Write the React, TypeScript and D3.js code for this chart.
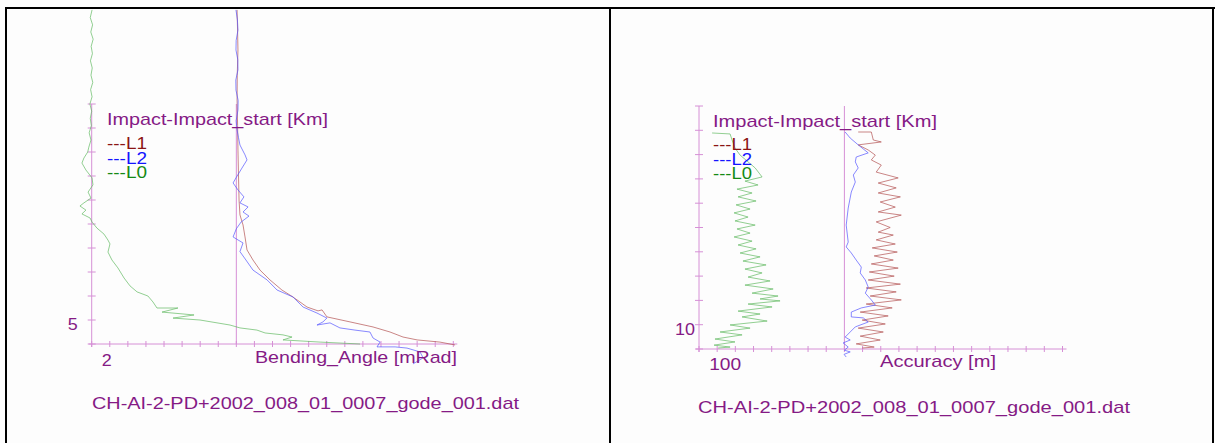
import React from 'react';
import * as d3 from 'd3';

type Pt = [number, number]; // [impact km, value]

const FILE_NAME = 'CH-AI-2-PD+2002_008_01_0007_gode_001.dat';
const Y_TITLE = 'Impact-Impact_start [Km]';
const SERIES_NAMES = ['L1', 'L2', 'L0'];
const LEGEND_COLORS = ['#8b1414', '#1414ff', '#148a14'];
const LINE_COLORS = ['#b04a4a', '#4f4fff', '#5cb85c'];

// ---- Left panel: Bending angle [mRad] ----
const bendXTicks = d3.range(1, 22, 1);
const bendYTicks = d3.range(4, 15, 1);
const bendXLabels = [2];
const bendYLabels = [5];
const bendRefX = 9;

const bendL1: Pt[] = [
  [17.92, 9.04], [17.0, 9.07], [16.25, 9.09], [15.2, 9.05], [14.17, 9.04], [13.1, 9.07], [12.08, 9.09],
  [11.0, 9.12], [10.0, 9.15], [9.38, 9.2], [8.96, 9.37], [8.46, 9.48], [7.92, 9.59], [7.5, 9.92],
  [7.08, 10.31], [6.67, 10.86], [6.25, 11.52], [5.96, 12.13], [5.54, 12.91], [5.38, 13.52],
  [5.42, 13.74], [5.13, 14.01], [4.92, 15.29], [4.71, 16.56], [4.5, 17.5], [4.29, 18.22],
  [4.17, 19.0], [4.08, 20.26], [3.96, 21.1],
];

const bendL2: Pt[] = [
  [17.92, 8.98], [17.5, 9.06], [17.08, 9.09], [16.65, 8.99], [16.25, 8.98], [15.85, 9.08], [15.42, 9.09],
  [15.0, 8.97], [14.58, 8.98], [14.15, 9.1], [13.75, 9.09], [13.3, 8.99], [12.92, 9.04], [12.6, 9.12],
  [12.29, 9.2], [11.88, 9.48], [11.67, 9.59], [11.33, 9.31], [10.92, 8.98], [10.71, 8.82],
  [10.42, 9.09], [10.13, 9.42], [9.88, 9.2], [9.71, 9.65], [9.5, 9.37], [9.33, 9.7], [9.08, 9.26],
  [8.8, 9.0], [8.46, 8.82], [8.21, 9.37], [7.85, 9.2], [7.5, 9.53], [7.08, 9.92], [6.67, 10.7],
  [6.25, 11.25], [5.96, 12.13], [5.54, 12.69], [5.29, 13.46], [5.08, 14.01], [4.92, 13.79],
  [4.79, 13.46], [4.88, 14.18], [4.67, 14.73], [4.58, 15.56], [4.5, 16.39], [4.25, 16.56],
  [4.08, 16.95], [3.88, 16.78], [3.88, 17.78], [3.83, 18.44], [3.67, 19.16], [3.42, 19.33], [3.17, 18.77],
];

const bendL0: Pt[] = [
  [17.92, 1.02], [17.6, 0.92], [17.3, 1.05], [17.0, 0.95], [16.7, 1.08], [16.4, 0.97], [16.1, 1.04],
  [15.8, 0.93], [15.5, 1.03], [15.2, 0.96], [14.9, 1.06], [14.6, 0.94], [14.3, 1.02], [14.0, 0.9],
  [13.7, 1.0], [13.4, 0.92], [13.1, 0.98], [12.8, 0.86], [12.5, 0.96], [12.2, 0.84], [12.0, 0.78],
  [11.75, 0.57], [11.54, 0.46], [11.25, 0.68], [10.92, 1.02], [10.63, 1.07], [10.33, 0.8],
  [10.08, 0.96], [9.88, 0.57], [9.75, 0.35], [9.58, 0.68], [9.42, 0.46], [9.25, 0.91], [9.08, 1.02],
  [8.83, 1.29], [8.58, 1.68], [8.33, 1.9], [8.17, 2.01], [7.83, 1.9], [7.5, 2.12], [7.17, 2.45],
  [6.75, 2.79], [6.42, 3.12], [6.17, 3.51], [6.0, 4.11], [5.75, 4.39], [5.5, 4.61], [5.5, 5.77],
  [5.33, 4.89], [5.21, 6.66], [5.08, 5.5], [5.0, 6.99], [4.79, 8.65], [4.67, 9.2], [4.58, 10.14],
  [4.46, 10.59], [4.38, 11.58], [4.29, 12.08], [4.17, 11.58], [4.08, 13.63], [4.0, 15.84],
];

// ---- Right panel: Accuracy [m] ----
const accXTicks = d3.range(0, 2001, 100);
const accYTicks = d3.range(9, 20, 1);
const accXLabels = [100];
const accYLabels = [10];
const accRefX = 800;

const accL1: Pt[] = [
  [17.93, 876], [17.93, 948], [17.6, 959], [17.52, 1003], [17.4, 876], [17.19, 931], [16.98, 970],
  [16.78, 948], [16.57, 1003], [16.28, 975], [16.04, 1096], [15.83, 986], [15.63, 1085], [15.42, 986],
  [15.26, 1108], [15.05, 997], [14.84, 1080], [14.64, 986], [14.51, 1113], [14.23, 975], [14.0, 1052],
  [13.81, 986], [13.69, 1069], [13.49, 975], [13.32, 1080], [13.16, 953], [12.99, 1091], [12.83, 964],
  [12.66, 1069], [12.5, 948], [12.33, 1096], [12.17, 937], [12.0, 1074], [11.84, 931], [11.67, 1108],
  [11.51, 920], [11.35, 1085], [11.18, 942], [11.02, 1113], [10.85, 920], [10.69, 1063], [10.52, 887],
  [10.36, 1041], [10.19, 898], [10.03, 1025], [9.86, 876], [9.7, 1014], [9.53, 887], [9.37, 997],
  [9.21, 865], [9.08, 964], [9.04, 898],
];

const accL2: Pt[] = [
  [17.93, 804], [17.68, 832], [17.4, 876], [17.07, 931], [16.9, 865], [16.7, 860], [16.45, 876],
  [16.16, 849], [15.87, 860], [15.46, 838], [14.8, 821], [14.1, 810], [13.4, 821], [13.2, 810],
  [12.95, 838], [12.66, 865], [12.37, 893], [12.13, 887], [11.84, 915], [11.55, 931], [11.3, 915],
  [11.02, 948], [10.81, 970], [10.69, 893], [10.52, 838], [10.32, 838], [10.28, 904], [10.11, 931],
  [9.91, 860], [9.7, 832], [9.49, 804], [9.37, 832], [9.25, 793], [9.08, 821], [8.95, 800],
  [8.88, 832], [8.78, 798], [8.67, 810],
];

const accL0: Pt[] = [
  [17.89, 72], [17.85, 171], [17.6, 182], [17.27, 198], [16.98, 226], [16.7, 270], [16.45, 309],
  [16.08, 347], [15.91, 253], [15.75, 325], [15.58, 209], [15.42, 292], [15.26, 215], [15.09, 314],
  [14.93, 204], [14.76, 281], [14.6, 193], [14.43, 270], [14.27, 198], [14.1, 309], [13.94, 209],
  [13.77, 281], [13.61, 193], [13.44, 292], [13.28, 215], [13.12, 314], [12.95, 226], [12.79, 336],
  [12.62, 242], [12.46, 369], [12.29, 253], [12.13, 347], [11.96, 270], [11.8, 391], [11.63, 253],
  [11.47, 408], [11.3, 292], [11.18, 435], [11.06, 336], [10.98, 446], [10.85, 270], [10.73, 402],
  [10.56, 215], [10.44, 336], [10.32, 237], [10.15, 375], [9.99, 171], [9.86, 281], [9.7, 116],
  [9.58, 237], [9.41, 88], [9.29, 198], [9.16, 83], [9.08, 171], [9.04, 105],
];

const TEXT = '#851a85';
const AXIS = '#d690d6';
const FONT = "'Liberation Sans', Arial, sans-serif";

interface PanelCfg {
  xDomain: [number, number];
  xRange: [number, number];
  yDomain: [number, number];
  yRange: [number, number];
  xTicks: number[];
  yTicks: number[];
  xLabels: number[];
  yLabels: number[];
  refX: number;
  refTop: number;
  series: Pt[][];
  xTitle: string;
  xTitlePos: [number, number, number];
  yTitlePos: [number, number, number];
  legendPos: [number, number];
  legendW: number;
  fileNamePos: [number, number, number];
  yLabelW: number;
  xLabelW: number;
  xLabelDy: number;
}

function T({ x, y, w, fill, children }: { x: number; y: number; w: number; fill: string; children: React.ReactNode }) {
  return (
    <text x={x} y={y} fill={fill} fontSize={17} fontFamily={FONT} textLength={w} lengthAdjust="spacingAndGlyphs">
      {children}
    </text>
  );
}

function Panel({ c }: { c: PanelCfg }) {
  const x = d3.scaleLinear().domain(c.xDomain).range(c.xRange);
  const y = d3.scaleLinear().domain(c.yDomain).range(c.yRange);
  const line = d3.line<Pt>().x((d) => x(d[1])).y((d) => y(d[0]));
  const x0 = x(c.xDomain[0]);
  const y0 = y(c.yDomain[0]);
  const yTop = y(c.yDomain[1]);
  return (
    <g>
      {/* axes */}
      <line x1={x0 - 3} x2={c.xRange[1] + 4} y1={y0} y2={y0} stroke={AXIS} strokeWidth={1} />
      <line x1={x0} x2={x0} y1={yTop} y2={y0 + 3} stroke={AXIS} strokeWidth={1} />
      {c.yTicks.map((t) => (
        <line key={'yt' + t} x1={x0 - 4} x2={x0 + 4} y1={y(t)} y2={y(t)} stroke={AXIS} strokeWidth={1} />
      ))}
      {c.xTicks.map((t) => (
        <line key={'xt' + t} x1={x(t)} x2={x(t)} y1={y0 - 3} y2={y0 + 3} stroke={AXIS} strokeWidth={1} />
      ))}
      <line x1={x(c.refX)} x2={x(c.refX)} y1={c.refTop} y2={y0} stroke={AXIS} strokeWidth={1} />
      {/* data */}
      {c.series.map((s, i) => (
        <path key={'s' + i} d={line(s) || ''} fill="none" stroke={LINE_COLORS[i]} strokeWidth={0.9} strokeOpacity={0.75} />
      ))}
      {/* labels */}
      {c.yLabels.map((t) => (
        <T key={'yl' + t} x={x0 - 24} y={y(t) + 10} w={c.yLabelW} fill={TEXT}>{String(t)}</T>
      ))}
      {c.xLabels.map((t) => (
        <T key={'xl' + t} x={x(t) - 8} y={y0 + c.xLabelDy} w={c.xLabelW} fill={TEXT}>{String(t)}</T>
      ))}
      <T x={c.xTitlePos[0]} y={c.xTitlePos[1]} w={c.xTitlePos[2]} fill={TEXT}>{c.xTitle}</T>
      <T x={c.yTitlePos[0]} y={c.yTitlePos[1]} w={c.yTitlePos[2]} fill={TEXT}>{Y_TITLE}</T>
      {SERIES_NAMES.map((n, i) => (
        <T key={n} x={c.legendPos[0]} y={c.legendPos[1] + i * 14.5} w={c.legendW} fill={LEGEND_COLORS[i]}>{'---' + n}</T>
      ))}
      <T x={c.fileNamePos[0]} y={c.fileNamePos[1]} w={c.fileNamePos[2]} fill={TEXT}>{FILE_NAME}</T>
    </g>
  );
}

export default function App() {
  const left: PanelCfg = {
    xDomain: [1, 21], xRange: [91.7, 453.3],
    yDomain: [4, 14], yRange: [344, 104],
    xTicks: bendXTicks, yTicks: bendYTicks, xLabels: bendXLabels, yLabels: bendYLabels,
    refX: bendRefX, refTop: 104,
    series: [bendL1, bendL2, bendL0],
    xTitle: 'Bending_Angle [mRad]', xTitlePos: [255, 363, 202],
    yTitlePos: [107, 125, 221], legendPos: [107, 149], legendW: 40,
    fileNamePos: [92, 409, 427], yLabelW: 10, xLabelW: 10, xLabelDy: 22,
  };
  const right: PanelCfg = {
    xDomain: [0, 2000], xRange: [699, 1062.5],
    yDomain: [9, 19], yRange: [349, 106],
    xTicks: accXTicks, yTicks: accYTicks, xLabels: accXLabels, yLabels: accYLabels,
    refX: accRefX, refTop: 106,
    series: [accL1, accL2, accL0],
    xTitle: 'Accuracy [m]', xTitlePos: [880, 367, 116],
    yTitlePos: [713, 127, 224], legendPos: [713, 150], legendW: 39,
    fileNamePos: [698, 413, 432], yLabelW: 20, xLabelW: 32, xLabelDy: 21,
  };
  return (
    <svg width={1215} height={443} style={{ position: 'absolute', left: 0, top: 0 }}>
      <rect x={0} y={0} width={1215} height={443} fill="#fdfdfd" />
      <Panel c={left} />
      <Panel c={right} />
      <line x1={5} x2={1215} y1={8} y2={8} stroke="#000" strokeWidth={2} />
      <line x1={6} x2={6} y1={7} y2={443} stroke="#000" strokeWidth={2} />
      <line x1={610} x2={610} y1={7} y2={443} stroke="#000" strokeWidth={2} />
      <line x1={1213} x2={1213} y1={7} y2={443} stroke="#000" strokeWidth={2} />
    </svg>
  );
}
